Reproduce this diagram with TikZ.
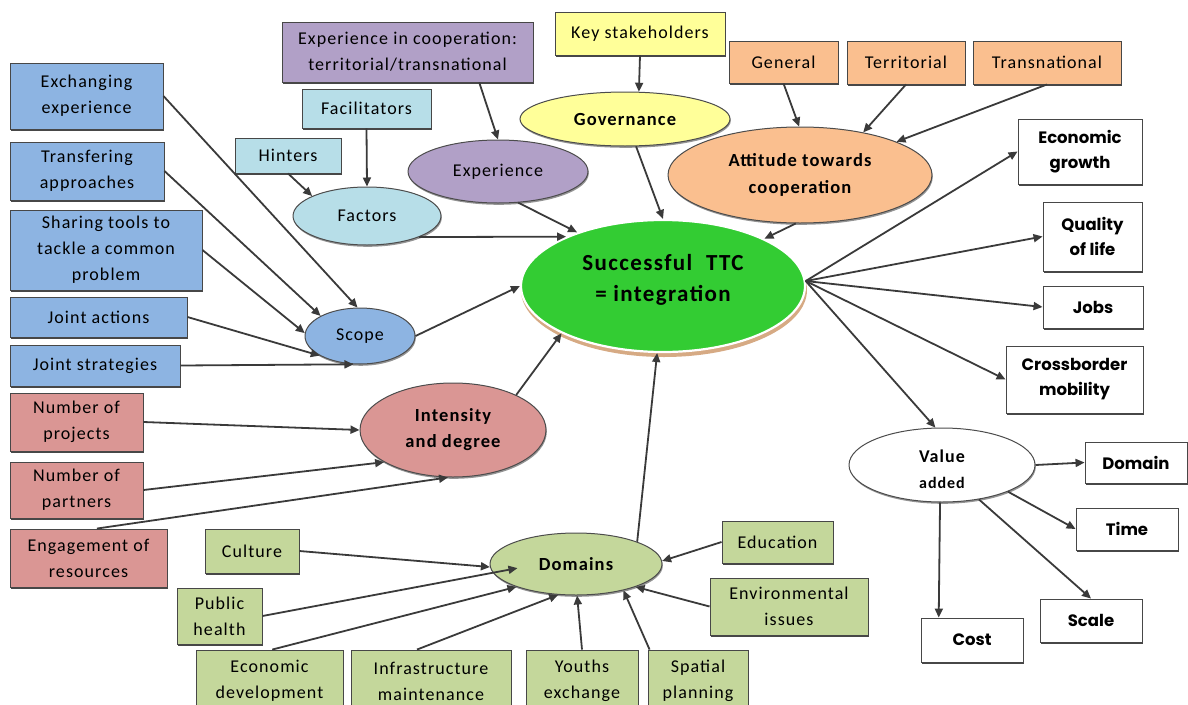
\documentclass[tikz,border=0pt]{standalone}
\usepackage{fontspec}
\setmainfont{Carlito}[LetterSpace=6]
\newfontfamily\geofont{Poppins}
\usetikzlibrary{arrows.meta,shapes.geometric,shadows}

\definecolor{blueF}{RGB}{141,180,226}
\definecolor{redF}{RGB}{218,150,148}
\definecolor{greenF}{RGB}{196,215,155}
\definecolor{cyanF}{RGB}{183,222,232}
\definecolor{purpleF}{RGB}{177,160,199}
\definecolor{yellowF}{RGB}{255,255,153}
\definecolor{orangeF}{RGB}{250,191,143}
\definecolor{mainF}{RGB}{51,204,51}
\definecolor{tanF}{RGB}{214,170,132}
\definecolor{lineC}{RGB}{58,58,58}

\begin{document}
\begin{tikzpicture}[x=1pt,y=-1pt,
  every node/.style={inner sep=0pt, align=center, font=\fontsize{18}{26}\selectfont},
  bx/.style={rectangle, draw=black!72, line width=0.9pt,
    drop shadow={shadow xshift=1.2pt, shadow yshift=-2.4pt, fill=black!80, opacity=0.9}},
  el/.style={ellipse, draw=black!70, line width=1pt,
    drop shadow={shadow xshift=0.8pt, shadow yshift=-1.8pt, fill=black!70, opacity=0.6}},
  elbold/.style={el, font=\fontsize{18.5}{27}\selectfont\bfseries},
  wb/.style={bx, fill=white, font=\geofont\fontsize{16.5}{25}\selectfont\bfseries},
  arr/.style={draw=lineC, line width=1.8pt, -{Triangle[length=9pt,width=8pt]}},
]
\useasboundingbox (0,0) rectangle (1188,704);

% ---------- scope inputs (blue) ----------
\node[bx, fill=blueF, minimum width=153pt, minimum height=66pt] (exch) at (86.5,96) {Exchanging\\experience};
\node[bx, fill=blueF, minimum width=154pt, minimum height=58pt] (transf) at (87,171) {Transfering\\approaches};
\node[bx, fill=blueF, minimum width=192pt, minimum height=80pt] (sharing) at (106,250) {Sharing tools to\\tackle a common\\problem};
\node[bx, fill=blueF, minimum width=177pt, minimum height=40pt] (jointact) at (98.5,317) {Joint actions};
\node[bx, fill=blueF, minimum width=170pt, minimum height=41pt] (jointstr) at (95,365.5) {Joint strategies};

% ---------- intensity inputs (red) ----------
\node[bx, fill=redF, minimum width=133pt, minimum height=58pt] (nproj) at (76.5,422) {Number of\\projects};
\node[bx, fill=redF, minimum width=133pt, minimum height=56pt] (npart) at (76.5,490) {Number of\\partners};
\node[bx, fill=redF, minimum width=157pt, minimum height=58pt] (engage) at (88.5,558) {Engagement of\\resources};

% ---------- domains inputs (green) ----------
\node[bx, fill=greenF, minimum width=94pt, minimum height=44pt] (culture) at (252,551) {Culture};
\node[bx, fill=greenF, minimum width=85pt, minimum height=56pt] (publich) at (219.5,616) {Public\\health};
\node[bx, fill=greenF, minimum width=147pt, minimum height=62pt] (econdev) at (269.5,681) {Economic\\development};
\node[bx, fill=greenF, minimum width=160pt, minimum height=62pt] (infra) at (431,681) {Infrastructure\\maintenance};
\node[bx, fill=greenF, minimum width=112pt, minimum height=62pt] (youths) at (582,681) {Youths\\exchange};
\node[bx, fill=greenF, minimum width=100pt, minimum height=62pt] (spatial) at (698,681) {Spatial\\planning};
\node[bx, fill=greenF, minimum width=111pt, minimum height=42pt] (edu) at (777.5,542) {Education};
\node[bx, fill=greenF, minimum width=158pt, minimum height=57pt] (env) at (789,606.5) {Environmental\\issues};

% ---------- top boxes ----------
\node[bx, fill=cyanF, minimum width=106pt, minimum height=35pt] (hinters) at (288,155.5) {Hinters};
\node[bx, fill=cyanF, minimum width=129pt, minimum height=39pt] (facil) at (366.5,108.5) {Facilitators};
\node[bx, fill=purpleF, minimum width=251pt, minimum height=60pt] (expcoop) at (407.5,52) {Experience in cooperation:\\territorial/transnational};
\node[bx, fill=yellowF, minimum width=170pt, minimum height=43pt] (keys) at (640,33.5) {Key stakeholders};
\node[bx, fill=orangeF, minimum width=109pt, minimum height=42pt] (general) at (783.5,62) {General};
\node[bx, fill=orangeF, minimum width=118pt, minimum height=43pt] (territ) at (906,62.5) {Territorial};
\node[bx, fill=orangeF, minimum width=148pt, minimum height=43pt] (transn) at (1047,62.5) {Transnational};

% ---------- outcome boxes (white) ----------
\node[wb, minimum width=124pt, minimum height=65pt] (econ) at (1080,151.5) {Economic\\growth};
\node[wb, minimum width=99pt, minimum height=69pt] (quality) at (1092.5,236.5) {Quality\\of life};
\node[wb, minimum width=100pt, minimum height=42pt] (jobs) at (1093,307) {Jobs};
\node[wb, minimum width=137pt, minimum height=67pt] (cross) at (1074.5,379.5) {Crossborder\\mobility};
\node[wb, minimum width=102pt, minimum height=41pt] (domain) at (1136,462.5) {Domain};
\node[wb, minimum width=102pt, minimum height=42pt] (time) at (1127,529) {Time};
\node[wb, minimum width=102pt, minimum height=43pt] (scale) at (1091,620.5) {Scale};
\node[wb, minimum width=102pt, minimum height=44pt] (cost) at (972,640) {Cost};

% ---------- ellipses ----------
\node[el, fill=cyanF, minimum width=148pt, minimum height=58pt] (factors) at (367,216) {Factors};
\node[el, fill=purpleF, minimum width=180pt, minimum height=63pt] (exper) at (498,171.5) {Experience};
\node[elbold, fill=yellowF, minimum width=210pt, minimum height=54pt] (gov) at (625,119) {Governance};
\node[elbold, fill=orangeF, minimum width=264pt, minimum height=96pt] (att) at (800,175) {Attitude towards\\cooperation};
\node[el, fill=blueF, minimum width=110pt, minimum height=56pt] (scope) at (360,336) {Scope};
\node[elbold, fill=redF, minimum width=186pt, minimum height=94pt, font=\fontsize{18.5}{26}\selectfont\bfseries] (intens) at (453,430) {Intensity\\and degree};
\node[elbold, fill=greenF, minimum width=172pt, minimum height=62pt] (domains) at (576,564) {Domains};
\node[elbold, fill=white, minimum width=186pt, minimum height=74pt, font=\fontsize{18}{26}\selectfont\bfseries] (va) at (942,465) {\mbox{}\\[-4pt]Value\\{\fontsize{16}{20}\selectfont added}};

% central goal with its tan rim
\node[ellipse, fill=tanF, minimum width=286pt, minimum height=134pt] (mainrim) at (664,290) {};
\node[ellipse, fill=mainF, draw=white, line width=2.2pt, minimum width=284pt, minimum height=132pt,
  font=\fontsize{23}{31}\selectfont\bfseries] (main) at (663,286) {Successful\hspace{0.6em}TTC\\= integration\\[-14pt]\mbox{}};

% ---------- connectors ----------
\draw[arr] (exch.east) -- (scope.95);
\draw[arr] (transf.east) -- (scope.153);
\draw[arr] (sharing.east) -- (scope.177);
\draw[arr] (jointact.east) -- (scope.206);
\draw[arr] (jointstr.east) -- (scope.257);
\draw[arr] (scope.east) -- (main.180);

\draw[arr] (nproj.east) -- (intens.west);
\draw[arr] (npart.east) -- (intens.205);
\draw[arr] (engage.74) -- (intens.264);
\draw[arr] (intens.29) -- (main.205);

\draw[arr] (hinters.south) -- (factors.160);
\draw[arr] (facil.south) -- (factors.north);
\draw[arr] (factors.-22) -- (main.153);
\draw[arr] (expcoop.-23) -- (exper.north);
\draw[arr] (exper.-57) -- (main.148);
\draw[arr] (keys.south) -- (gov.63);
\draw[arr] (gov.-68) -- (main.north);
\draw[arr] (general.south) -- (att.91);
\draw[arr] (territ.south) -- (att.34);
\draw[arr] (transn.south) -- (att.19);
\draw[arr] (att.-95) -- (main.25);

\draw[arr] (main.2) -- (econ.west);
\draw[arr] (main.2) -- (quality.west);
\draw[arr] (main.2) -- (jobs.west);
\draw[arr] (main.2) -- (cross.west);
\draw[arr] (main.2) -- (va.100);

\draw[arr] (va.east) -- (domain.west);
\draw[arr] (va.-22) -- (time.west);
\draw[arr] (va.-43) -- (scale.north);
\draw[arr] (va.-93) -- (cost.146);

\draw[arr] (domains.20) -- (main.265);
\draw[arr] (culture.east) -- (domains.182);
\draw[arr, shorten >=-25pt] (publich.east) -- (domains.186.5);
\draw[arr] (econdev.85) -- (domains.201);
\draw[arr] (infra.114) -- (domains.240);
\draw[arr] (youths.north) -- (domains.272);
\draw[arr] (spatial.147) -- (domains.-29);
\draw[arr] (env.west) -- (domains.-21);
\draw[arr] (edu.west) -- (domains.2);
\end{tikzpicture}
\end{document}
